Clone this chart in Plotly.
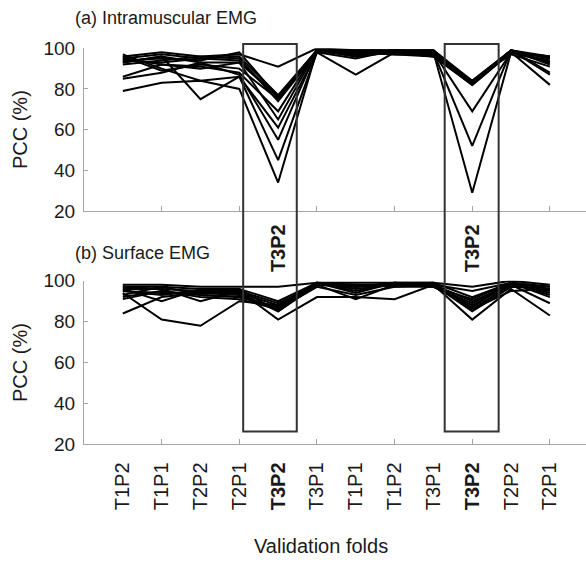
import plotly.graph_objects as go

folds = ["T1P2", "T1P1", "T2P2", "T2P1", "T3P2", "T3P1",
         "T1P1", "T1P2", "T3P1", "T3P2", "T2P2", "T2P1"]
highlight = "T3P2"

# (a) Intramuscular EMG: PCC (%) per validation fold, one list per model/subject
imes_1 = [96, 98, 96, 97, 91, 100, 99, 99, 99, 84, 99, 96]
imes_2 = [95, 97, 95, 96, 77, 99, 98, 98, 98, 83, 99, 95]
imes_3 = [94, 93, 95, 94, 76, 99, 97, 99, 97, 84, 98, 93]
imes_4 = [93, 96, 93, 93, 76, 98, 98, 97, 96, 82, 98, 96]
imes_5 = [96, 89, 92, 90, 75, 99, 96, 98, 99, 83, 99, 88]
imes_6 = [92, 94, 96, 95, 74, 98, 95, 99, 98, 69, 98, 94]
imes_7 = [95, 92, 91, 88, 69, 99, 97, 98, 96, 84, 97, 91]
imes_8 = [86, 92, 90, 93, 65, 99, 98, 97, 97, 83, 99, 87]
imes_9 = [97, 90, 84, 86, 61, 98, 87, 98, 98, 52, 99, 95]
imes_10 = [85, 88, 93, 87, 55, 99, 96, 99, 97, 82, 98, 82]
imes_11 = [93, 96, 75, 86, 45, 98, 98, 98, 96, 84, 99, 93]
imes_12 = [79, 83, 84, 80, 34, 99, 97, 99, 98, 29, 98, 96]
imes_13 = [94, 95, 94, 98, 76, 99, 99, 99, 99, 83, 99, 92]

# (b) Surface EMG
semg_1 = [98, 98, 97, 97, 97, 99, 99, 99, 99, 97, 100, 98]
semg_2 = [97, 97, 96, 96, 90, 99, 98, 98, 98, 95, 99, 97]
semg_3 = [96, 96, 95, 95, 89, 98, 97, 99, 99, 92, 99, 96]
semg_4 = [95, 94, 94, 94, 88, 99, 96, 98, 98, 90, 98, 95]
semg_5 = [93, 97, 93, 92, 87, 98, 98, 97, 97, 88, 99, 94]
semg_6 = [92, 95, 92, 91, 86, 99, 95, 99, 98, 87, 99, 93]
semg_7 = [96, 90, 96, 96, 85, 98, 97, 98, 99, 86, 98, 89]
semg_8 = [84, 92, 94, 93, 86, 97, 93, 97, 98, 85, 97, 96]
semg_9 = [94, 81, 78, 90, 88, 99, 94, 99, 97, 89, 99, 92]
semg_10 = [97, 96, 90, 95, 81, 92, 92, 91, 98, 81, 96, 83]
semg_11 = [95, 93, 95, 94, 85, 98, 91, 98, 97, 91, 99, 97]
semg_12 = [91, 95, 93, 92, 87, 99, 97, 98, 98, 86, 95, 96]

imes_series = [imes_1, imes_2, imes_3, imes_4, imes_5, imes_6, imes_7,
               imes_8, imes_9, imes_10, imes_11, imes_12, imes_13]
semg_series = [semg_1, semg_2, semg_3, semg_4, semg_5, semg_6, semg_7,
               semg_8, semg_9, semg_10, semg_11, semg_12]

y_ticks = [20, 40, 60, 80, 100]
x_idx = list(range(len(folds)))

FONT = "Liberation Sans, Arial, sans-serif"
TXT = "#1a1a1a"
AX = "#a6a6a6"
W, H = 586, 564
ML = 84
X_RANGE = [-1, 11.93]
Y_RANGE = [20, 100]
TOP_DOM = [0.6259, 0.9144]
BOT_DOM = [0.2119, 0.5023]

fig = go.Figure()
for s in imes_series:
    fig.add_trace(go.Scatter(x=x_idx, y=s, mode="lines", xaxis="x", yaxis="y",
                             line=dict(color="black", width=2), showlegend=False,
                             hoverinfo="skip"))
for s in semg_series:
    fig.add_trace(go.Scatter(x=x_idx, y=s, mode="lines", xaxis="x2", yaxis="y2",
                             line=dict(color="black", width=2), showlegend=False,
                             hoverinfo="skip"))
# carrier for the label axis
fig.add_trace(go.Scatter(x=[x_idx[0]], y=[None], xaxis="x3", yaxis="y2",
                         mode="lines", showlegend=False, hoverinfo="skip"))

odd_ticks = [i for i in x_idx if i % 2 == 1]
ticktext = [f"<b>{f}</b>" if f == highlight else f for f in folds]

common_x = dict(range=X_RANGE, showgrid=False, zeroline=False, showline=True,
                linecolor=AX, linewidth=1, ticks="inside", ticklen=5,
                tickcolor=AX, tickmode="array", tickvals=odd_ticks,
                showticklabels=False, domain=[0, 1])
common_y = dict(range=Y_RANGE, showgrid=False, zeroline=False, showline=True,
                linecolor=AX, linewidth=1, ticks="inside", ticklen=4,
                tickcolor=AX, tickmode="array", tickvals=y_ticks,
                tickfont=dict(size=19, color=TXT, family=FONT),
                ticklabelstandoff=4,
                title=dict(text="PCC (%)", font=dict(size=20, color=TXT, family=FONT),
                           standoff=10))

fig.update_layout(
    width=W, height=H,
    margin=dict(l=ML, r=0, t=0, b=0, autoexpand=False),
    paper_bgcolor="white", plot_bgcolor="white",
    font=dict(family=FONT, color=TXT),
    xaxis=dict(common_x, anchor="y"),
    yaxis=dict(common_y, domain=TOP_DOM, anchor="x"),
    xaxis2=dict(common_x, anchor="y2"),
    yaxis2=dict(common_y, domain=BOT_DOM, anchor="x2"),
    xaxis3=dict(range=X_RANGE, overlaying="x2", anchor="y2", side="bottom",
                showgrid=False, zeroline=False, showline=False, ticks="",
                tickmode="array", tickvals=x_idx, ticktext=ticktext,
                tickangle=-90, ticklabelstandoff=13,
                tickfont=dict(size=20, color=TXT, family=FONT)),
    showlegend=False,
)


def paper_y(val, dom):
    return dom[0] + (val - Y_RANGE[0]) / (Y_RANGE[1] - Y_RANGE[0]) * (dom[1] - dom[0])


# highlight boxes spanning both panels around the T3P2 folds
box_spans = [(3.1, 4.48), (8.29, 9.68)]
for x0, x1 in box_spans:
    fig.add_shape(type="rect", xref="x", yref="paper", x0=x0, x1=x1,
                  y0=paper_y(26.3, BOT_DOM), y1=paper_y(102.1, TOP_DOM),
                  line=dict(color="#333333", width=2), fillcolor="rgba(0,0,0,0)",
                  layer="above")

# bold fold labels between the panels
for i, f in enumerate(folds):
    if f == highlight:
        fig.add_annotation(x=i, xref="x", y=1 - 248 / H, yref="paper",
                           text=f"<b>{f}</b>", textangle=-90, showarrow=False,
                           font=dict(size=20, color=TXT, family=FONT),
                           xanchor="center", yanchor="middle")

fig.add_annotation(x=(73 - ML) / (W - ML), xref="paper", y=1 - 18 / H, yref="paper",
                   text="(a) Intramuscular EMG", showarrow=False, xanchor="left",
                   yanchor="middle", font=dict(size=18, color=TXT, family=FONT))
fig.add_annotation(x=(73 - ML) / (W - ML), xref="paper", y=1 - 253 / H, yref="paper",
                   text="(b) Surface EMG", showarrow=False, xanchor="left",
                   yanchor="middle", font=dict(size=18, color=TXT, family=FONT))
fig.add_annotation(x=(321 - ML) / (W - ML), xref="paper", y=1 - 546 / H, yref="paper",
                   text="Validation folds", showarrow=False, xanchor="center",
                   yanchor="middle", font=dict(size=20, color=TXT, family=FONT))

fig.write_html("out.html")
